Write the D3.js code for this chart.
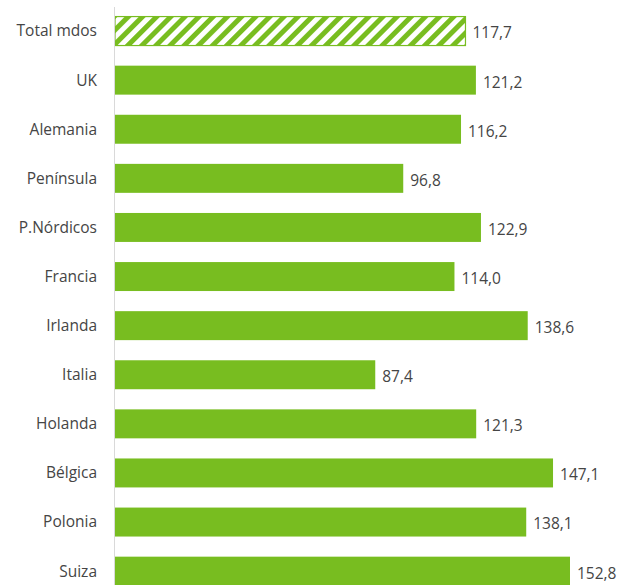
<!DOCTYPE html>
<html>
<head>
<meta charset="utf-8">
<script src="https://cdn.jsdelivr.net/npm/d3@7"></script>
<style>
  body { margin: 0; background: #fff; }
  svg { display: block; font-family: "Open Sans", Lato, sans-serif; }
</style>
</head>
<body>
<script>
// data
var categories = ["Total mdos", "UK", "Alemania", "Península", "P.Nórdicos", "Francia",
  "Irlanda", "Italia", "Holanda", "Bélgica", "Polonia", "Suiza"];
var values = [117.7, 121.2, 116.2, 96.8, 122.9, 114.0, 138.6, 87.4, 121.3, 147.1, 138.1, 152.8];
var totalLabel = "Total mdos";

var svgWidth = 634;
var svgHeight = 585;
var green = "#78bd20";

var data = categories.map(function(c, i) { return { name: c, value: values[i] }; });

var svg = d3.select("body")
  .append("svg")
  .attr("width", svgWidth)
  .attr("height", svgHeight);

// hatch pattern for the total bar
var defs = svg.append("defs");
var pat = defs.append("pattern")
  .attr("id", "hatch")
  .attr("patternUnits", "userSpaceOnUse")
  .attr("width", 10)
  .attr("height", 10)
  .attr("patternTransform", "rotate(45)");
pat.append("rect").attr("width", 10).attr("height", 10).attr("fill", "#fff");
pat.append("rect").attr("x", 0).attr("width", 5).attr("height", 10).attr("fill", green);

var x = d3.scaleLinear()
  .domain([0, 152.8])
  .range([115, 570]);

var y = d3.scaleBand()
  .domain(categories)
  .range([6.5, 6.5 + 12 * 49.1])
  .paddingInner(0.41)
  .paddingOuter(0.205);

// bars
svg.selectAll("rect.bar")
  .data(data)
  .enter()
  .append("rect")
  .attr("class", "bar")
  .attr("x", x(0))
  .attr("y", d => y(d.name))
  .attr("width", d => x(d.value) - x(0))
  .attr("height", y.bandwidth())
  .attr("fill", d => d.name === totalLabel ? "url(#hatch)" : green)
  .attr("stroke", d => d.name === totalLabel ? green : "none")
  .attr("stroke-width", 1.2);

// vertical axis line
svg.append("line")
  .attr("x1", 114.5).attr("x2", 114.5)
  .attr("y1", 7).attr("y2", svgHeight)
  .attr("stroke", "#d9d9d9")
  .attr("stroke-width", 1);

// category labels
svg.selectAll("text.cat")
  .data(data)
  .enter()
  .append("text")
  .attr("class", "cat")
  .attr("x", 97)
  .attr("y", d => y(d.name) + y.bandwidth() / 2)
  .attr("dy", "0.35em")
  .attr("text-anchor", "end")
  .attr("fill", "#454545")
  .style("font-size", "15.5px")
  .text(d => d.name);

// value labels
svg.selectAll("text.val")
  .data(data)
  .enter()
  .append("text")
  .attr("class", "val")
  .attr("x", d => x(d.value) + 7)
  .attr("y", d => y(d.name) + y.bandwidth() / 2 + 2)
  .attr("dy", "0.35em")
  .attr("fill", "#454545")
  .style("font-size", "15.5px")
  .text(d => d.value.toFixed(1).replace(".", ","));
</script>
</body>
</html>
